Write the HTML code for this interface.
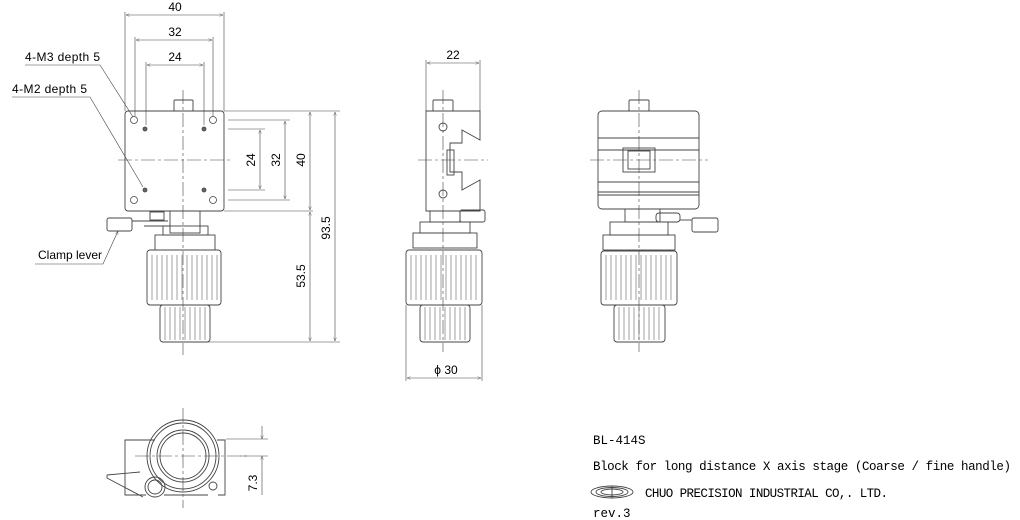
<!DOCTYPE html>
<html><head><meta charset="utf-8"><style>
html,body{margin:0;padding:0;background:#fff;width:1020px;height:520px;overflow:hidden}
svg{display:block}
text{font-family:"Liberation Sans",sans-serif;fill:#000}
.m{font-family:"Liberation Mono",monospace}
</style></head><body>
<svg width="1020" height="520" viewBox="0 0 1020 520" xmlns="http://www.w3.org/2000/svg">
<defs>
<marker id="a" viewBox="0 0 10 10" refX="10" refY="5" markerWidth="8" markerHeight="6" orient="auto-start-reverse"><path d="M0,1 L10,5 L0,9" fill="none" stroke="#444" stroke-width="1"/></marker>
</defs>
<g fill="none" stroke="#444" stroke-width="0.9">
<!-- FRONT VIEW -->
<rect x="125" y="111" width="99" height="100" rx="3"/>
<rect x="174" y="100" width="19" height="11" rx="1"/>
<g stroke-width="0.8">
<circle cx="134" cy="120" r="3.5"/><circle cx="213" cy="120" r="3.5"/><circle cx="134" cy="200" r="3.5"/><circle cx="213" cy="200" r="3.5"/>
<circle cx="145" cy="129" r="2" fill="#666"/><circle cx="204" cy="129" r="2" fill="#666"/><circle cx="145" cy="190" r="2" fill="#666"/><circle cx="204" cy="190" r="2" fill="#666"/>
</g>
<g stroke-dasharray="14,3,3,3" stroke-width="0.6">
<line x1="183" y1="90" x2="183" y2="355"/><line x1="118" y1="160" x2="232" y2="160"/>
</g>
<g stroke-width="0.6">
<line x1="125" y1="12" x2="125" y2="111"/><line x1="224" y1="12" x2="224" y2="111"/>
<line x1="135" y1="37" x2="135" y2="116"/><line x1="213" y1="37" x2="213" y2="116"/>
<line x1="146" y1="62" x2="146" y2="125"/><line x1="204" y1="62" x2="204" y2="125"/>
<line x1="126" y1="15" x2="223" y2="15" marker-start="url(#a)" marker-end="url(#a)"/>
<line x1="136" y1="40" x2="212" y2="40" marker-start="url(#a)" marker-end="url(#a)"/>
<line x1="147" y1="65" x2="203" y2="65" marker-start="url(#a)" marker-end="url(#a)"/>
<line x1="228" y1="120" x2="290" y2="120"/><line x1="228" y1="129" x2="265" y2="129"/>
<line x1="228" y1="190" x2="265" y2="190"/><line x1="228" y1="200" x2="290" y2="200"/>
<line x1="224" y1="111" x2="340" y2="111"/><line x1="224" y1="211" x2="313" y2="211"/>
<line x1="208" y1="342" x2="340" y2="342"/>
<line x1="260" y1="130" x2="260" y2="189" marker-start="url(#a)" marker-end="url(#a)"/>
<line x1="285" y1="121" x2="285" y2="199" marker-start="url(#a)" marker-end="url(#a)"/>
<line x1="310" y1="112" x2="310" y2="210" marker-start="url(#a)" marker-end="url(#a)"/>
<line x1="310" y1="212" x2="310" y2="341" marker-start="url(#a)" marker-end="url(#a)"/>
<line x1="335" y1="112" x2="335" y2="341" marker-start="url(#a)" marker-end="url(#a)"/>
<polyline points="25,65 100,65 133,117"/>
<polyline points="12,97 90,97 143,187"/>
<polyline points="35,264 103,264 118,231" marker-end="url(#a)"/>
</g>
<rect x="170" y="211" width="30" height="22"/>
<rect x="163" y="226" width="45" height="9"/>
<rect x="155" y="235" width="60" height="15"/>
<rect x="147" y="250" width="74" height="55" rx="3"/>
<rect x="160" y="305" width="50" height="37" rx="3"/>
<rect x="107" y="218" width="25" height="13" rx="2"/>
<line x1="132" y1="221" x2="168" y2="221"/><line x1="144" y1="226" x2="170" y2="226"/>
<rect x="150" y="212" width="14" height="8"/>
<g stroke-width="0.5">
<path d="M152,255V300M157,255V300M162,255V300M167,255V300M172,255V300M177,255V300M182,255V300M187,255V300M192,255V300M197,255V300M202,255V300M207,255V300M212,255V300M217,255V300"/>
<path d="M165,307V340M170,307V340M175,307V340M180,307V340M185,307V340M190,307V340M195,307V340M200,307V340M205,307V340"/>
</g>
<!-- SIDE VIEW -->
<path d="M426,111 H480 V140 L462,130 V143 H450 V172 H462 V190 L480,180 V211 H426 Z"/>
<rect x="433" y="100" width="20" height="11" rx="1"/>
<circle cx="443" cy="127" r="4"/><circle cx="443" cy="194" r="4"/>
<rect x="447" y="150" width="7" height="25"/>
<rect x="430" y="211" width="30" height="11"/>
<rect x="420" y="222" width="50" height="11"/>
<rect x="413" y="233" width="64" height="15"/>
<rect x="406" y="250" width="76" height="55" rx="3"/>
<rect x="420" y="305" width="50" height="37" rx="3"/>
<rect x="460" y="210" width="25" height="12" rx="2"/>
<g stroke-width="0.5">
<path d="M411,255V300M416,255V300M421,255V300M426,255V300M431,255V300M436,255V300M441,255V300M446,255V300M451,255V300M456,255V300M461,255V300M466,255V300M471,255V300M476,255V300"/>
<path d="M425,307V340M430,307V340M435,307V340M440,307V340M445,307V340M450,307V340M455,307V340M460,307V340M465,307V340"/>
</g>
<g stroke-dasharray="14,3,3,3" stroke-width="0.6">
<line x1="443" y1="90" x2="443" y2="352"/><line x1="418" y1="160" x2="488" y2="160"/>
</g>
<g stroke-width="0.6">
<line x1="426" y1="60" x2="426" y2="111"/><line x1="480" y1="60" x2="480" y2="111"/>
<line x1="427" y1="63" x2="479" y2="63" marker-start="url(#a)" marker-end="url(#a)"/>
<line x1="406" y1="305" x2="406" y2="381"/><line x1="482" y1="305" x2="482" y2="381"/>
<line x1="407" y1="378" x2="481" y2="378" marker-start="url(#a)" marker-end="url(#a)"/>
</g>
<!-- RIGHT VIEW -->
<rect x="598" y="111" width="101" height="98" rx="4"/>
<rect x="629" y="100" width="20" height="11" rx="1"/>
<line x1="598" y1="138" x2="699" y2="138"/><line x1="598" y1="150" x2="699" y2="150"/>
<line x1="598" y1="182" x2="699" y2="182"/><line x1="598" y1="192" x2="699" y2="192"/><line x1="598" y1="195" x2="699" y2="195"/>
<rect x="623" y="148" width="32" height="24"/><rect x="628" y="151" width="22" height="18"/>
<rect x="625" y="209" width="35" height="13"/>
<rect x="610" y="222" width="58" height="13"/>
<rect x="603" y="235" width="72" height="15"/>
<rect x="601" y="251" width="76" height="54" rx="3"/>
<rect x="614" y="305" width="51" height="37" rx="3"/>
<rect x="692" y="218" width="26" height="14" rx="2"/>
<line x1="680" y1="220" x2="692" y2="220"/>
<rect x="656" y="213" width="24" height="9" rx="3"/>
<g stroke-width="0.5">
<path d="M606,255V300M611,255V300M616,255V300M621,255V300M626,255V300M631,255V300M636,255V300M641,255V300M646,255V300M651,255V300M656,255V300M661,255V300M666,255V300M671,255V300"/>
<path d="M619,307V340M624,307V340M629,307V340M634,307V340M639,307V340M644,307V340M649,307V340M654,307V340M659,307V340"/>
</g>
<g stroke-dasharray="14,3,3,3" stroke-width="0.6">
<line x1="639" y1="90" x2="639" y2="352"/><line x1="590" y1="160" x2="708" y2="160"/>
</g>
<!-- BOTTOM VIEW -->
<path d="M155,440 H125 V495 H146 M164,495 H208 M218,495 H225 V440 H217"/>
<circle cx="183" cy="456" r="36"/><circle cx="183" cy="456" r="33"/><circle cx="183" cy="456" r="26"/><circle cx="183" cy="456" r="23"/>
<circle cx="155" cy="487" r="10"/><circle cx="155" cy="487" r="7"/>
<circle cx="213" cy="486" r="4"/>
<path d="M107,475 L140,472 M107,475 L107,478 L143,497"/>
<g stroke-dasharray="14,3,3,3" stroke-width="0.6">
<line x1="183" y1="408" x2="183" y2="508"/><line x1="135" y1="456" x2="250" y2="456"/>
</g>
<g stroke-width="0.6">
<line x1="226" y1="439" x2="268" y2="439"/><line x1="240" y1="456" x2="268" y2="456"/>
<line x1="262" y1="426" x2="262" y2="439" marker-end="url(#a)"/>
<line x1="262" y1="495" x2="262" y2="456" marker-end="url(#a)"/>
</g>
<ellipse cx="612" cy="492" rx="21" ry="6"/><ellipse cx="612" cy="492" rx="16" ry="4.5"/><ellipse cx="612" cy="492" rx="11" ry="3"/>
<line x1="612" y1="486" x2="612" y2="498"/>
</g>
<g font-size="12">
<text x="175" y="11" text-anchor="middle">40</text>
<text x="175" y="36" text-anchor="middle">32</text>
<text x="175" y="61" text-anchor="middle">24</text>
<text x="25" y="61" textLength="75">4-M3 depth 5</text>
<text x="12" y="93" textLength="75">4-M2 depth 5</text>
<text x="38" y="259">Clamp lever</text>
<text transform="translate(255,160) rotate(-90)" text-anchor="middle">24</text>
<text transform="translate(280,160) rotate(-90)" text-anchor="middle">32</text>
<text transform="translate(305,160) rotate(-90)" text-anchor="middle">40</text>
<text transform="translate(330,228) rotate(-90)" text-anchor="middle">93.5</text>
<text transform="translate(305,276) rotate(-90)" text-anchor="middle">53.5</text>
<text x="453" y="59" text-anchor="middle">22</text>
<text x="446" y="374" text-anchor="middle">ϕ 30</text>
<text transform="translate(257,483) rotate(-90)" text-anchor="middle">7.3</text>
</g>
<g font-size="12.5">
<text class="m" x="593" y="444">BL-414S</text>
<text class="m" x="593" y="470" textLength="418">Block for long distance X axis stage  (Coarse / fine handle)</text>
<text class="m" x="645" y="497" textLength="243">CHUO PRECISION INDUSTRIAL CO,. LTD.</text>
<text class="m" x="593" y="517">rev.3</text>
</g>
</svg>
</body></html>
